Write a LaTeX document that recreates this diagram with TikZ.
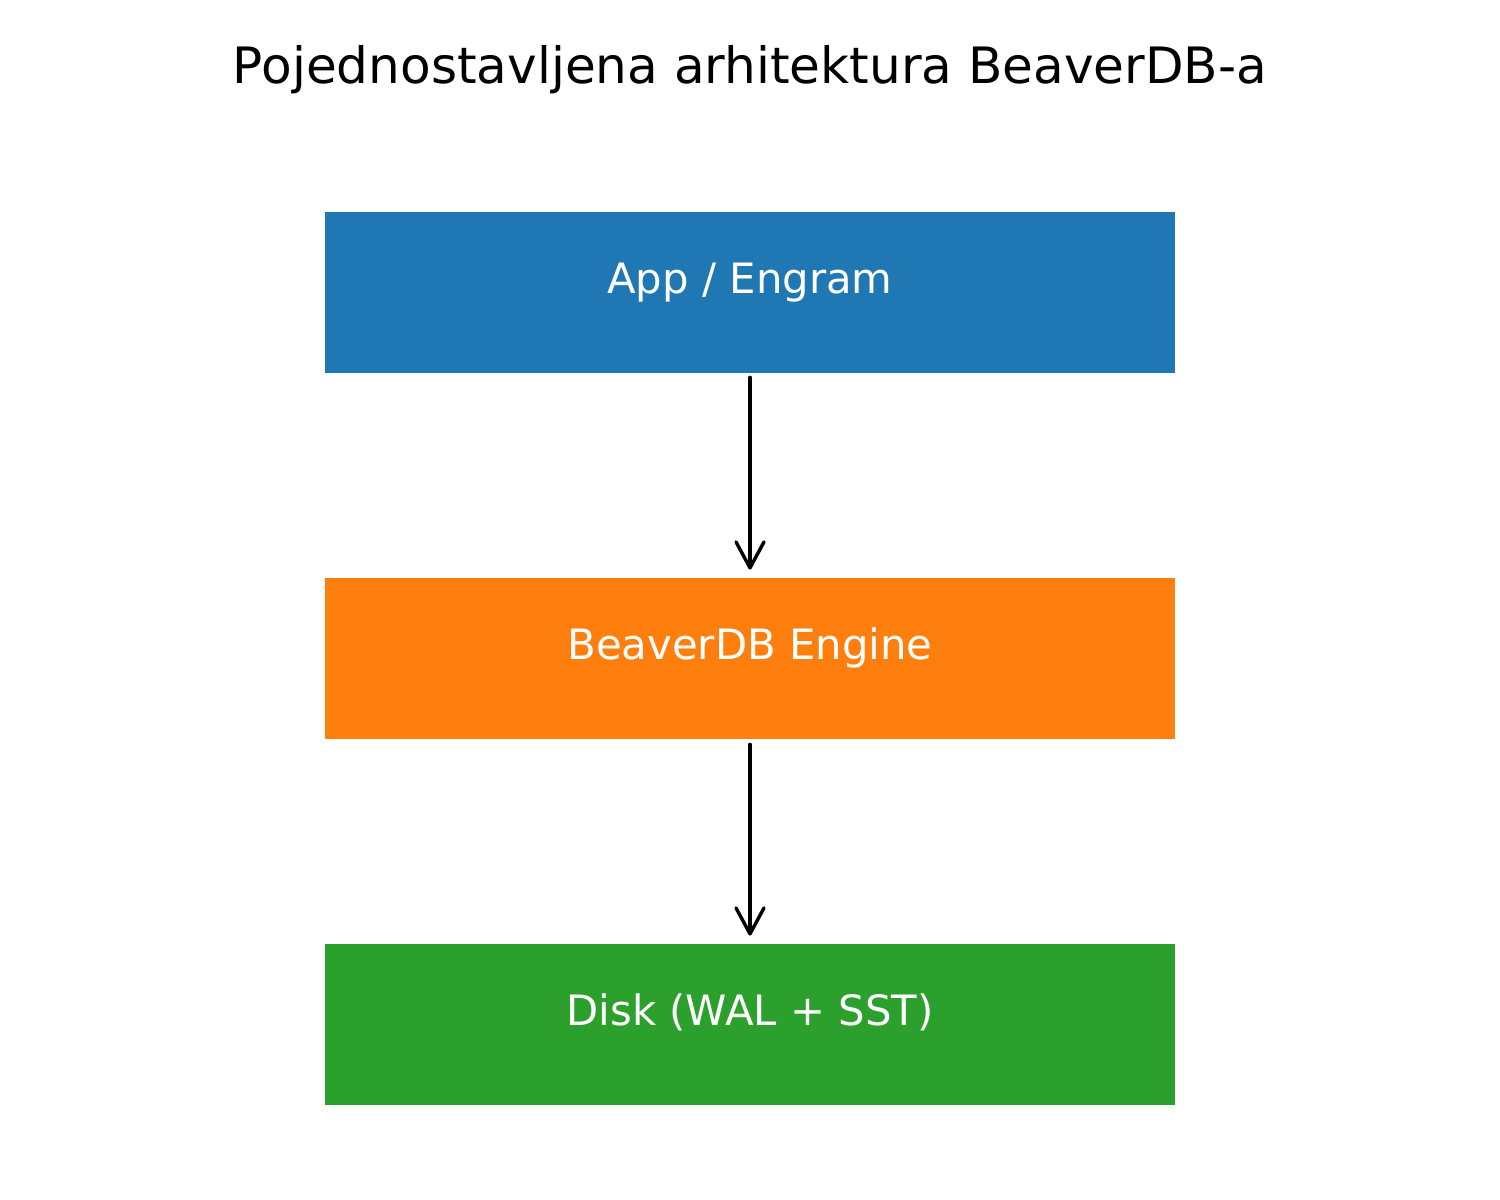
\documentclass[tikz,border=0pt]{standalone}
\usepackage{fontspec}
\setmainfont{DejaVu Sans}
\usetikzlibrary{arrows.meta}
\definecolor{tabblue}{HTML}{1F77B4}
\definecolor{taborange}{HTML}{FF7F0E}
\definecolor{tabgreen}{HTML}{2CA02C}
\begin{document}
\begin{tikzpicture}[x=0.5pt,y=-0.5pt,
  layerbox/.style={rectangle,inner sep=0pt,minimum width=425pt,minimum height=80.5pt,draw=none},
  layertext/.style={anchor=base,text=white,font=\fontsize{20.9pt}{24pt}\selectfont,inner sep=0pt},
  flowarrow/.style={line width=1.7pt,line cap=round,-{Straight Barb[length=13pt,width=14pt,line cap=round,round]}}]
\useasboundingbox (0,0) rectangle (1500,1200);
\node[anchor=base,font=\fontsize{25.05pt}{29pt}\selectfont,inner sep=0pt] (title) at (750,83) {Pojednostavljena arhitektura BeaverDB-a};
\node[layerbox,fill=tabblue] (app) at (750,292.5) {};
\node[layerbox,fill=taborange] (engine) at (750,658.5) {};
\node[layerbox,fill=tabgreen] (disk) at (750,1024.5) {};
\node[layertext] (apptext) at (750,293) {App / Engram};
\node[layertext] (enginetext) at (750,659) {BeaverDB Engine};
\node[layertext] (disktext) at (750,1025) {Disk (WAL + SST)};
\draw[flowarrow,shorten <=2pt,shorten >=4pt] (app.south) -- (engine.north);
\draw[flowarrow,shorten <=2.5pt,shorten >=4pt] (engine.south) -- (disk.north);
\end{tikzpicture}
\end{document}
